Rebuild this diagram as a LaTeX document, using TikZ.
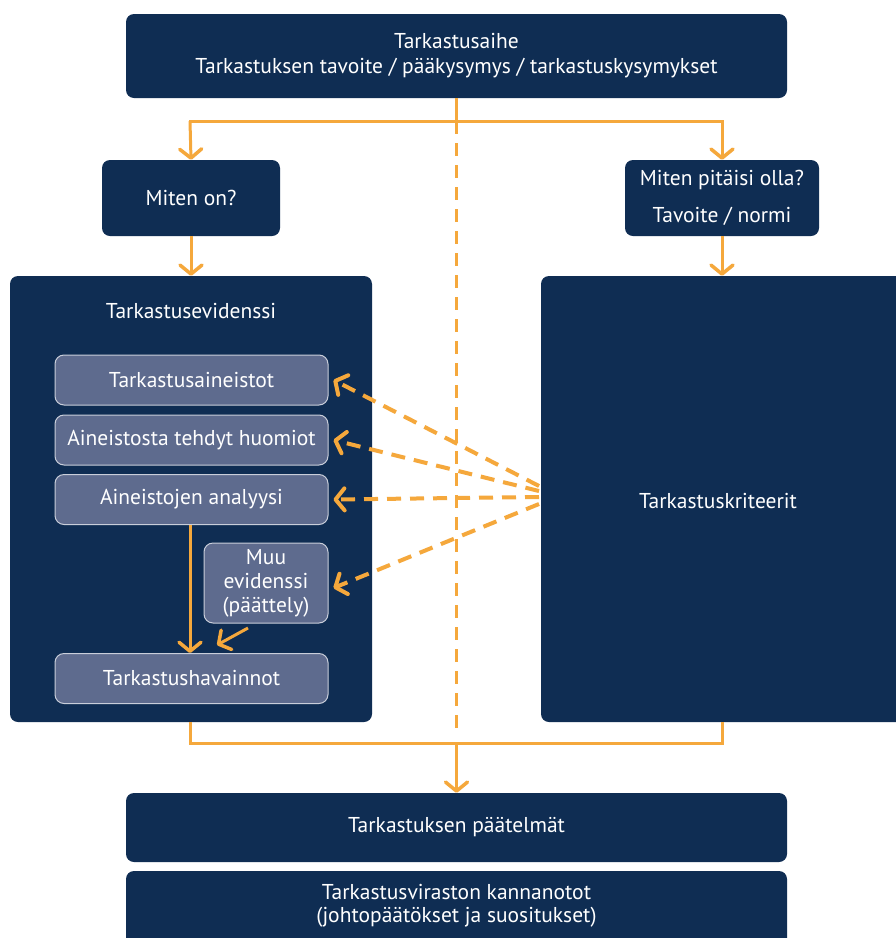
\documentclass[tikz,border=0pt]{standalone}
\usepackage{fontspec}
\setmainfont{PT Sans}
\usetikzlibrary{arrows.meta}
\definecolor{navy}{HTML}{0F2D53}
\definecolor{inner}{HTML}{5E6B8E}
\definecolor{innerborder}{HTML}{C9CEDA}
\definecolor{org}{HTML}{F5A83C}
\begin{document}
\begin{tikzpicture}[x=1pt,y=-1pt,
  navybox/.style={fill=navy,rounded corners=8pt,draw=none,text=white,align=center,inner sep=0pt,font=\fontsize{21.5}{25}\selectfont},
  innerbox/.style={fill=inner,draw=innerborder,line width=1pt,rounded corners=9pt,text=white,align=center,inner sep=0pt,minimum width=273pt,minimum height=50pt,font=\fontsize{21.5}{24}\selectfont},
  conn/.style={draw=org,line width=3pt},
  arr/.style={draw=org,line width=3pt,-{Straight Barb[length=9pt,width=22pt,line width=3.5pt,line cap=round,line join=round]}},
  darr/.style={draw=org,line width=4pt,dash pattern=on 14pt off 9pt,-{Straight Barb[length=9pt,width=22pt,line width=4pt,line cap=round,line join=round]}}
]
\useasboundingbox (0,0) rectangle (896,938);
\fill[white] (0,0) rectangle (896,938);

% boxes
\node[navybox,minimum width=661pt,minimum height=84pt] (top) at (456.5,56) {Tarkastusaihe\\Tarkastuksen tavoite / pääkysymys / tarkastuskysymykset};
\node[navybox,minimum width=178pt,minimum height=76pt] (miten) at (191,198) {Miten on?};
\node[navybox,minimum width=194pt,minimum height=76pt,font=\fontsize{21.5}{37}\selectfont] (pitaisi) at (722,198) {Miten pitäisi olla?\\Tavoite / normi};
\node[navybox,minimum width=362pt,minimum height=446pt] (evid) at (191,499) {};
\node[text=white,font=\fontsize{21.5}{24}\selectfont,inner sep=0pt] (evidt) at (191,311) {Tarkastusevidenssi};
\node[navybox,minimum width=364pt,minimum height=446pt] (krit) at (723,499) {};
\node[text=white,font=\fontsize{21.5}{24}\selectfont,inner sep=0pt] (kritt) at (718,501) {Tarkastuskriteerit};

\node[innerbox] (aineistot) at (191.5,380) {Tarkastusaineistot};
\node[innerbox] (huomiot) at (191.5,440) {Aineistosta tehdyt huomiot};
\node[innerbox] (analyysi) at (191.5,499.5) {Aineistojen analyysi};
\node[innerbox,minimum width=124pt,minimum height=80pt,font=\fontsize{21.5}{24}\selectfont] (muu) at (266,583) {Muu\\evidenssi\\(päättely)};
\node[innerbox] (havainnot) at (191.5,678.5) {Tarkastushavainnot};

\node[navybox,minimum width=661pt,minimum height=69pt] (paat) at (456.5,827.5) {Tarkastuksen päätelmät};
\node[navybox,minimum width=661pt,minimum height=76pt] (kanna) at (456.5,909) {};
\node[text=white,align=center,inner sep=0pt,font=\fontsize{21.5}{23}\selectfont] (kannat) at (456.5,906) {Tarkastusviraston kannanotot\\(johtopäätökset ja suositukset)};

% coordinates
\coordinate (t1) at (456.5,121);
\coordinate (tl) at (190,121);
\coordinate (tr) at (722,121);
\coordinate (b1) at (456.5,743);
\coordinate (bl) at (190,743);
\coordinate (br) at (722,743);
\coordinate (dend) at (456.5,733);

% top splitter
\draw[conn] (top.south) -- (t1);
\draw[conn,line cap=rect] (tl) -- (tr);
\draw[arr] (tl) -- (miten.north);
\draw[arr] (tr) -- (pitaisi.north);
\draw[arr] (miten.south) -- (evid.north -| miten.south);
\draw[arr] (pitaisi.south) -- (krit.north -| pitaisi.south);

% dashed center line
\draw[draw=org,line width=3pt,dash pattern=on 13pt off 9pt] (t1) -- (dend);

% bottom joiner
\draw[conn,line join=miter] (evid.south -| bl) -- (bl) -- (br) -- (krit.south -| br);
\draw[arr] (b1) -- (paat.north);

% inside evidence
\draw[arr] (analyysi.south -| 190,0) -- (havainnot.north -| 190,0);
\coordinate (m1) at (248,628);
\coordinate (m2) at (217,645);
\draw[arr] (m1) -- (m2);

% dashed fan
\coordinate (f1) at (539,486);
\coordinate (f2) at (539,491);
\coordinate (f3) at (539,497);
\coordinate (f4) at (539,504);
\draw[darr] (f1) -- ([xshift=5pt]aineistot.east);
\draw[darr] (f2) -- ([xshift=5pt]huomiot.east);
\draw[darr] (f3) -- ([xshift=5pt]analyysi.east);
\draw[darr] (f4) -- ([xshift=5pt,yshift=-5pt]muu.east);
\end{tikzpicture}
\end{document}
